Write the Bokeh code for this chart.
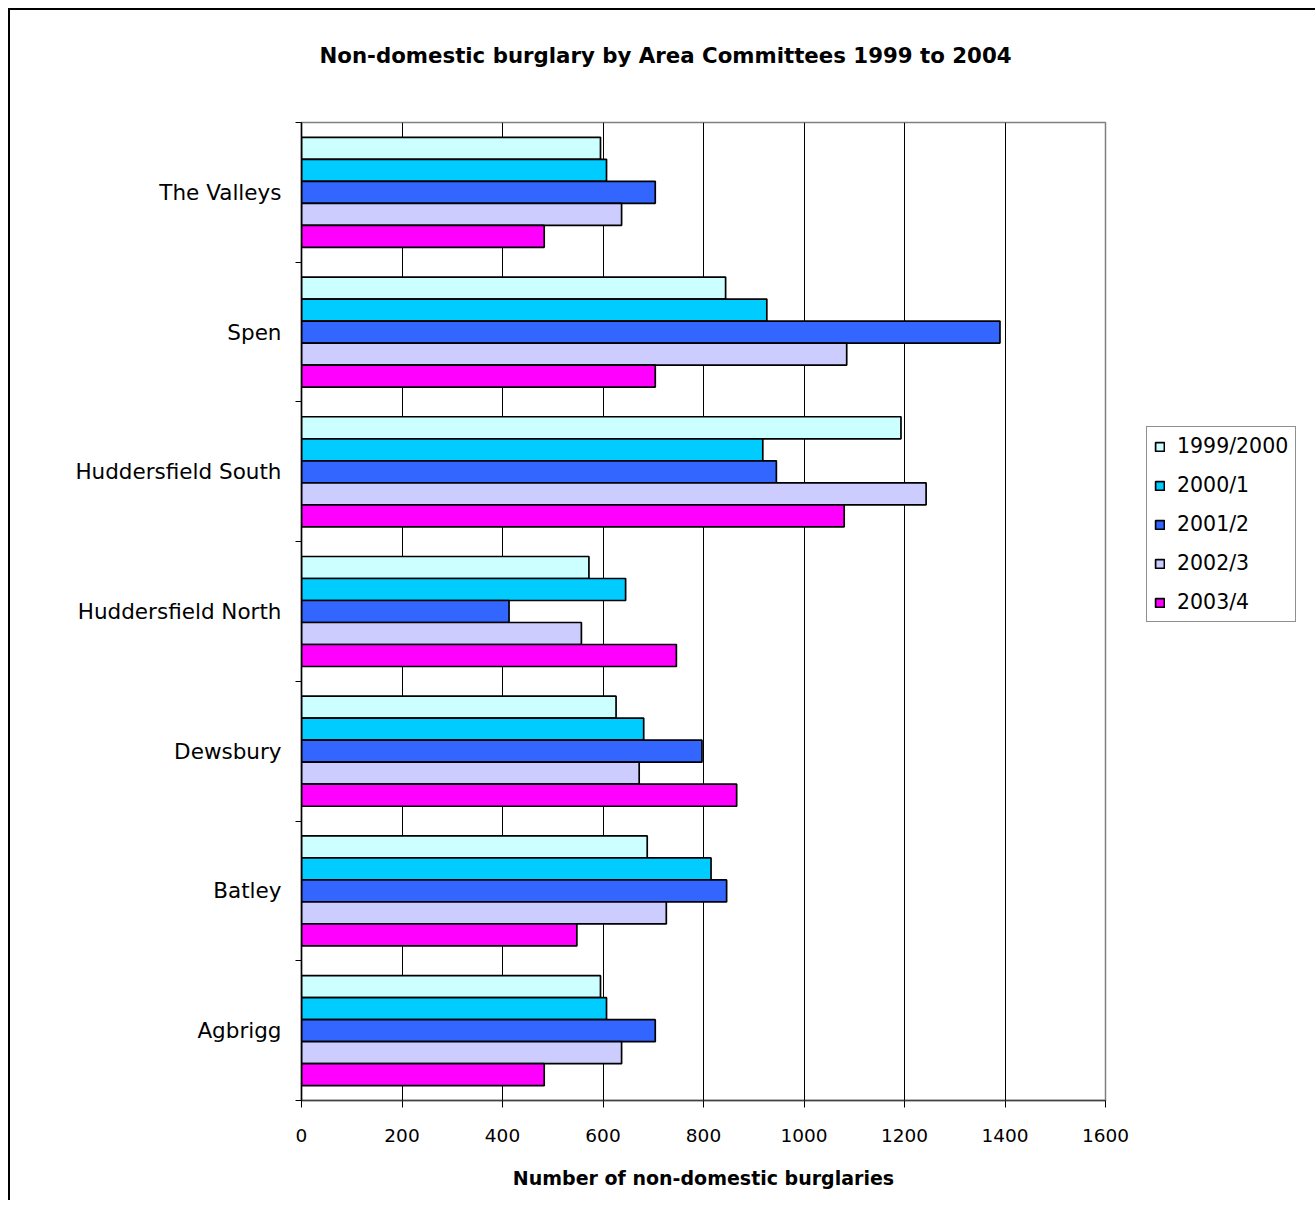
from bokeh.plotting import figure
from bokeh.models import Range1d, FixedTicker, Legend, LegendItem, ColumnDataSource, Title
from bokeh.embed import file_html
from bokeh.resources import INLINE

# ---- data (top-to-bottom as displayed) ----
categories = ["The Valleys", "Spen", "Huddersfield South", "Huddersfield North",
              "Dewsbury", "Batley", "Agbrigg"]
series_names = ["1999/2000", "2000/1", "2001/2", "2002/3", "2003/4"]
s1999_2000 = [595, 844, 1193, 572, 626, 688, 595]
s2000_1 = [607, 926, 918, 645, 681, 815, 607]
s2001_2 = [704, 1390, 945, 413, 797, 846, 704]
s2002_3 = [637, 1085, 1243, 557, 672, 726, 637]
s2003_4 = [483, 704, 1080, 746, 866, 548, 483]
x_ticks = [0, 200, 400, 600, 800, 1000, 1200, 1400, 1600]

series_values = [s1999_2000, s2000_1, s2001_2, s2002_3, s2003_4]
colors = ["#CCFFFF", "#00CCFF", "#3366FF", "#CCCCFF", "#FF00FF"]

FONT = "DejaVu Sans"
n = len(categories)
bar_h = 0.1575

p = figure(frame_width=804, frame_height=978,
           min_border_left=291, min_border_right=204,
           min_border_top=112, min_border_bottom=100,
           x_range=Range1d(0, 1600), y_range=Range1d(0, n),
           output_backend="svg", toolbar_location=None)
p.styles = {"margin-left": "8px", "margin-top": "8px",
            "border-left": "2px solid black", "border-top": "2px solid black"}

p.background_fill_color = "white"
p.border_fill_color = "white"
p.outline_line_color = "#808080"
p.outline_line_width = 1.5

centers = [n - 0.5 - k for k in range(n)]
items = []
for j, (name, vals, col) in enumerate(zip(series_names, series_values, colors)):
    ys = [c + (2 - j) * bar_h for c in centers]
    src = ColumnDataSource(dict(y=ys, right=vals, cat=categories))
    r = p.hbar(y="y", right="right", left=0, height=bar_h, source=src,
               fill_color=col, line_color="black", line_width=1.7)
    items.append(LegendItem(label=name, renderers=[r]))

# main title (outermost) + a thin spacer title between it and the frame
p.title.text = "Non-domestic burglary by Area Committees 1999 to 2004"
p.title.align = "left"
p.title.offset = 18
p.title.text_font = FONT
p.title.text_font_style = "bold"
p.title.text_font_size = "21.3px"
p.title.text_color = "black"
p.title.standoff = 60
spacer = Title(text=" ", text_font_size="1px", standoff=22)
p.add_layout(spacer, "above")

# x axis
xa = p.xaxis[0]
xa.ticker = FixedTicker(ticks=x_ticks)
xa.major_tick_out = 7
xa.major_tick_in = 0
xa.minor_tick_out = 0
xa.minor_tick_in = 0
xa.axis_line_color = "#404040"
xa.axis_line_width = 1.5
xa.major_tick_line_color = "black"
xa.major_label_text_font = FONT
xa.major_label_text_font_size = "18.5px"
xa.major_label_text_color = "black"
xa.major_label_standoff = 21
xa.axis_label = "Number of non-domestic burglaries"
xa.axis_label_text_font = FONT
xa.axis_label_text_font_style = "bold"
xa.axis_label_text_font_size = "19px"
xa.axis_label_text_color = "black"
xa.axis_label_standoff = 22

# y axis
ya = p.yaxis[0]
ya.ticker = FixedTicker(ticks=centers, minor_ticks=[float(i) for i in range(n + 1)])
ya.major_label_overrides = {c: cat for c, cat in zip(centers, categories)}
ya.major_tick_out = 0
ya.major_tick_in = 0
ya.major_tick_line_color = None
ya.minor_tick_out = 6
ya.minor_tick_in = 0
ya.minor_tick_line_color = "black"
ya.axis_line_color = "black"
ya.axis_line_width = 1.5
ya.major_label_text_font = FONT
ya.major_label_text_font_size = "21.5px"
ya.major_label_text_color = "black"
ya.major_label_standoff = 14

# grid
p.xgrid.ticker = FixedTicker(ticks=x_ticks)
p.xgrid.grid_line_color = "black"
p.xgrid.grid_line_width = 1
p.ygrid.grid_line_color = None

legend = Legend(items=items, location=(41, 478), margin=0,
                orientation="vertical")
legend.border_line_color = "#202020"
legend.border_line_width = 1
legend.background_fill_color = "white"
legend.background_fill_alpha = 1
legend.label_text_font = FONT
legend.label_text_font_size = "20.5px"
legend.label_text_color = "black"
legend.glyph_width = 11
legend.glyph_height = 11
legend.label_standoff = 12
legend.label_height = 20
legend.spacing = 15
legend.padding = 7
p.add_layout(legend, "right")

open("out.html", "w").write(file_html(p, INLINE))
